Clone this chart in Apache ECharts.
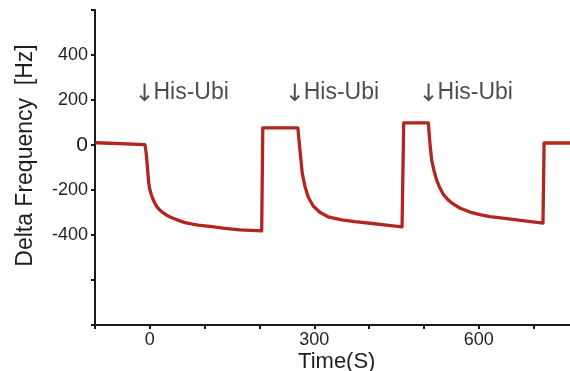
<!DOCTYPE html>
<html>
<head>
<meta charset="utf-8">
<script src="https://cdn.jsdelivr.net/npm/echarts@6/dist/echarts.min.js"></script>
<style>
  html, body { margin: 0; padding: 0; background: #fff; }
  #chart { width: 570px; height: 371px; }
</style>
</head>
<body>
<div id="chart"></div>
<script>
// QCM response: frequency shift over time with three His-Ubi injections
const timeS = [
  -97, -9, -7, -6, -4, -2, 0, 3, 6, 9, 13, 18, 24, 30, 38, 46, 55, 64, 76, 88, 113, 133, 164, 204,
  206, 270, 272, 275, 278, 283, 289, 298, 310, 325, 350, 374, 410, 435, 460,
  463, 508, 510, 512, 514, 518, 523, 529, 536, 544, 553, 565, 584, 602, 620, 651, 680, 717,
  719, 800
];
const deltaHz = [
  10, 2, -30, -52, -111, -169, -198, -222, -242, -258, -275, -289, -301, -311, -321, -329, -337, -345, -351, -356, -363, -369, -377, -382,
  76, 76, 22, -52, -126, -185, -232, -271, -299, -319, -333, -341, -350, -357, -364,
  98, 98, 31, -22, -67, -111, -156, -191, -222, -244, -262, -280, -298, -309, -318, -327, -336, -347,
  9, 9
];

// Injection markers
const injectionTime = [-28, 246, 490];
const injectionLabelHz = [231, 231, 231];
const injectionName = 'His-Ubi';

// Tick labels shown on each axis
const xTickLabels = [0, 300, 600];
const yTickLabels = [-400, -200, 0, 200, 400];

const font = 'Liberation Sans, Arial, Helvetica, sans-serif';
const textColor = '#1f1f1f';

const chart = echarts.init(document.getElementById('chart'), null, { renderer: 'canvas' });

chart.setOption({
  animation: false,
  backgroundColor: '#fff',
  grid: { left: 95, top: 10, width: 493.5, height: 315, outerBoundsMode: 'none', containLabel: false },
  xAxis: {
    type: 'value',
    min: -100,
    max: 800,
    interval: 100,
    name: 'Time(S)',
    nameLocation: 'middle',
    nameGap: 26,
    nameMoveOverlap: false,
    nameTextStyle: { fontFamily: font, fontSize: 22, color: textColor, padding: [0, 10, 0, 0] },
    axisLine: { show: true, onZero: false, lineStyle: { color: '#1a1a1a', width: 2 } },
    axisTick: { show: true, length: 4, lineStyle: { color: '#1a1a1a', width: 2 } },
    axisLabel: {
      margin: 6,
      fontFamily: font,
      fontSize: 18,
      color: textColor,
      formatter: v => (xTickLabels.includes(v) ? String(v) : '')
    },
    splitLine: { show: false }
  },
  yAxis: {
    type: 'value',
    min: -800,
    max: 600,
    interval: 200,
    name: 'Delta Frequency  [Hz]',
    nameLocation: 'middle',
    nameGap: 58,
    nameMoveOverlap: false,
    nameTextStyle: { fontFamily: font, fontSize: 23, color: textColor, padding: [0, 0, 0, 24] },
    axisLine: { show: true, onZero: false, lineStyle: { color: '#1a1a1a', width: 2 } },
    axisTick: { show: true, length: 4, lineStyle: { color: '#1a1a1a', width: 2 } },
    axisLabel: {
      margin: 7,
      fontFamily: font,
      fontSize: 18,
      color: textColor,
      formatter: v => {
        if (!yTickLabels.includes(v)) return '';
        return v === 0 ? '{zero|0}' : String(v);
      },
      rich: { zero: { fontFamily: font, fontSize: 21, color: '#1a1a1a' } }
    },
    splitLine: { show: false }
  },
  series: [
    {
      type: 'line',
      data: timeS.map((t, i) => [t, deltaHz[i]]),
      showSymbol: false,
      symbol: 'none',
      lineStyle: { color: '#b3261f', width: 3.3, join: 'round', cap: 'round' },
      silent: true
    },
    {
      type: 'scatter',
      data: injectionTime.map((t, i) => [t, injectionLabelHz[i]]),
      symbolSize: 0,
      silent: true,
      label: {
        show: true,
        position: 'right',
        distance: 0,
        formatter: '{arrow|↓}{name|' + injectionName + '}',
        rich: {
          arrow: { fontFamily: 'DejaVu Sans, sans-serif', fontSize: 24, color: textColor, width: 19, align: 'left', padding: [4, 0, 0, 0] },
          name: { fontFamily: font, fontSize: 23, color: textColor }
        }
      }
    }
  ]
});
</script>
</body>
</html>
